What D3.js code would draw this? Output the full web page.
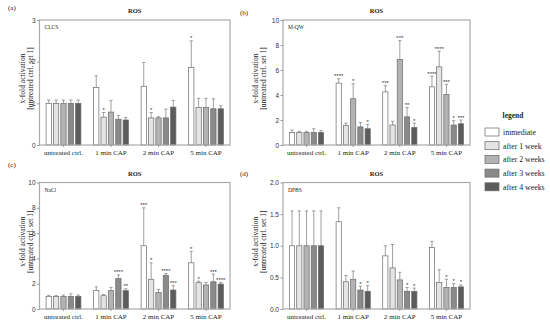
<!DOCTYPE html>
<html>
<head>
<meta charset="utf-8">
<script src="https://cdn.jsdelivr.net/npm/d3@7"></script>
<style>
  body { margin: 0; background: #fff; }
  svg { display: block; }
  .serif { font-family: 'Liberation Serif', 'DejaVu Serif', serif; }
  .sans { font-family: 'Liberation Sans', Arial, sans-serif; }
</style>
</head>
<body>
<div id="chart"></div>
<script>
// categories and series
var categories = ['untreated ctrl.', '1 min CAP', '2 min CAP', '5 min CAP']
var series = ['immediate', 'after 1 week', 'after 2 weeks', 'after 3 weeks', 'after 4 weeks']
var seriesColors = ['#ffffff', '#e4e4e4', '#b3b3b3', '#8a8a8a', '#5c5c5c']

// (a) CLCS  - mean, upper error bar end, significance
var clcsMean = [[1, 1, 1, 1, 1], [1.38, 0.67, 0.79, 0.62, 0.6], [1.41, 0.65, 0.65, 0.65, 0.91], [1.86, 0.9, 0.9, 0.87, 0.87]]
var clcsErr = [[1.08, 1.08, 1.08, 1.08, 1.08], [1.66, 0.78, 1.07, 0.71, 0.66], [1.98, 0.78, 0.68, 0.86, 1.07], [2.5, 1.12, 1.12, 1.11, 0.94]]
var clcsSig = [['', '', '', '', ''], ['', '*', '', '', ''], ['', '*', '', '', ''], ['*', '', '', '', '']]

// (b) M-QW
var mqwMean = [[1, 1, 1, 1, 1], [4.95, 1.55, 3.7, 1.45, 1.3], [4.25, 1.6, 6.85, 2.25, 1.4], [4.65, 6.25, 4.05, 1.6, 1.7]]
var mqwErr = [[1.2, 1.1, 1.1, 1.3, 1.15], [5.3, 1.75, 4.9, 1.8, 1.65], [4.75, 1.9, 8.35, 3.0, 1.75], [5.5, 7.5, 4.85, 1.95, 2.0]]
var mqwSig = [['', '', '', '', ''], ['****', '', '*', '', '*'], ['***', '', '***', '**', '*'], ['****', '****', '***', '*', '***']]

// (c) NaCl
var naclMean = [[1, 1, 1, 1, 1], [1.45, 1.05, 1.45, 2.4, 1.45], [5.0, 2.35, 1.3, 2.65, 1.5], [3.65, 2.08, 1.9, 2.15, 1.97]]
var naclErr = [[1.08, 1.07, 1.1, 1.2, 1.1], [1.75, 1.15, 1.7, 2.7, 1.6], [8.0, 3.65, 1.55, 2.8, 1.85], [4.55, 2.2, 2.1, 2.76, 2.1]]
var naclSig = [['', '', '', '', ''], ['', '', '', '****', '**'], ['***', '*', '', '****', '***'], ['*', '*', '', '***', '****']]

// (d) DPBS
var dpbsMean = [[1, 1, 1, 1, 1], [1.38, 0.43, 0.47, 0.3, 0.28], [0.84, 0.65, 0.46, 0.28, 0.28], [0.97, 0.42, 0.34, 0.34, 0.35]]
var dpbsErr = [[1.55, 1.55, 1.55, 1.55, 1.55], [1.6, 0.53, 0.6, 0.36, 0.37], [1.0, 1.02, 0.58, 0.34, 0.33], [1.07, 0.62, 0.47, 0.4, 0.38]]
var dpbsSig = [['', '', '', '', ''], ['', '', '', '*', '*'], ['', '', '', '*', '*'], ['', '', '*', '*', '*']]

var width = 550
var height = 321

var svg = d3.select('#chart').append('svg')
  .attr('width', width)
  .attr('height', height)

var colour = d3.scaleOrdinal().domain(series).range(seriesColors)

var panels = [
  { tag: '(a)', name: 'CLCS', mean: clcsMean, err: clcsErr, sig: clcsSig, max: 3, ticks: [0, 1, 2, 3], fmt: d3.format('d'),
    x0: 39.5, x1: 230, top: 20, bottom: 145, tagX: 8, tagY: 10, labelX: 29 },
  { tag: '(b)', name: 'M-QW', mean: mqwMean, err: mqwErr, sig: mqwSig, max: 10, ticks: [0, 2, 4, 6, 8, 10], fmt: d3.format('d'),
    x0: 283, x1: 470, top: 20, bottom: 145, tagX: 240, tagY: 15, labelX: 262 },
  { tag: '(c)', name: 'NaCl', mean: naclMean, err: naclErr, sig: naclSig, max: 10, ticks: [0, 2, 4, 6, 8, 10], fmt: d3.format('d'),
    x0: 39.5, x1: 230, top: 182.5, bottom: 309, tagX: 8, tagY: 167, labelX: 29 },
  { tag: '(d)', name: 'DPBS', mean: dpbsMean, err: dpbsErr, sig: dpbsSig, max: 2, ticks: [0, 0.5, 1, 1.5, 2], fmt: d3.format('.1f'),
    x0: 283, x1: 470, top: 182.5, bottom: 309, tagX: 240, tagY: 176, labelX: 262 }
]

panels.forEach(function (p) {
  var g = svg.append('g')

  var x = d3.scaleBand().domain(categories).range([p.x0, p.x1]).paddingInner(0.18).paddingOuter(0.095)
  var xs = d3.scaleBand().domain(series).range([0, x.bandwidth()]).padding(0.28)
  var y = d3.scaleLinear().domain([0, p.max]).range([p.bottom, p.top])

  // panel tag and title
  g.append('text').attr('class', 'serif')
    .attr('x', p.tagX).attr('y', p.tagY)
    .attr('font-size', 7).attr('fill', '#222')
    .text(p.tag)
  g.append('text').attr('class', 'serif')
    .attr('x', (p.x0 + p.x1) / 2).attr('y', p.top - 7)
    .attr('text-anchor', 'middle')
    .attr('font-size', 6.5).attr('font-weight', 'bold').attr('fill', '#222')
    .text('ROS')

  // y axis label
  var labelY = (p.top + p.bottom) / 2 - 4
  var yl = g.append('text').attr('class', 'serif')
    .attr('transform', 'translate(' + p.labelX + ',' + labelY + ') rotate(-90)')
    .attr('text-anchor', 'middle')
    .attr('font-size', 7.5).attr('fill', '#222')
  yl.append('tspan').attr('x', 0).attr('dy', -3.6).text('x-fold activation')
  yl.append('tspan').attr('x', 0).attr('dy', 7.8).text('[untreated ctrl. set 1]')

  // bars
  var groups = g.append('g')
    .selectAll('g')
    .data(categories)
    .join('g')
    .attr('transform', function (c) { return 'translate(' + x(c) + ',0)' })

  var cells = groups.selectAll('g')
    .data(function (c, i) {
      return series.map(function (s, j) {
        return { s: s, mean: p.mean[i][j], err: p.err[i][j], sig: p.sig[i][j] }
      })
    })
    .join('g')

  // error bars (upper only)
  cells.append('line')
    .attr('x1', function (d) { return xs(d.s) + xs.bandwidth() / 2 })
    .attr('x2', function (d) { return xs(d.s) + xs.bandwidth() / 2 })
    .attr('y1', function (d) { return y(d.mean) })
    .attr('y2', function (d) { return y(d.err) })
    .attr('stroke', '#888').attr('stroke-width', 0.8)
  cells.append('line')
    .attr('x1', function (d) { return xs(d.s) + xs.bandwidth() / 2 - 1.6 })
    .attr('x2', function (d) { return xs(d.s) + xs.bandwidth() / 2 + 1.6 })
    .attr('y1', function (d) { return y(d.err) })
    .attr('y2', function (d) { return y(d.err) })
    .attr('stroke', '#888').attr('stroke-width', 0.8)

  cells.append('rect')
    .attr('x', function (d) { return xs(d.s) })
    .attr('y', function (d) { return y(d.mean) })
    .attr('width', xs.bandwidth())
    .attr('height', function (d) { return p.bottom - y(d.mean) })
    .attr('fill', function (d) { return colour(d.s) })
    .attr('stroke', '#6a6a6a').attr('stroke-width', 0.7)

  cells.append('text').attr('class', 'sans')
    .attr('x', function (d) { return xs(d.s) + xs.bandwidth() / 2 })
    .attr('y', function (d) { return y(d.err) - 0.5 })
    .attr('text-anchor', 'middle')
    .attr('font-size', 6).attr('fill', '#333')
    .text(function (d) { return d.sig })

  // frame
  g.append('rect')
    .attr('x', p.x0).attr('y', p.top)
    .attr('width', p.x1 - p.x0).attr('height', p.bottom - p.top)
    .attr('fill', 'none').attr('stroke', '#aaa').attr('stroke-width', 1.2)

  // y axis
  var yAxis = g.append('g')
    .attr('transform', 'translate(' + p.x0 + ',0)')
    .call(d3.axisLeft(y).tickValues(p.ticks).tickFormat(p.fmt).tickSize(2.5).tickPadding(1.5))
  yAxis.select('.domain').remove()
  yAxis.selectAll('line').attr('stroke', '#999')
  yAxis.selectAll('text').attr('class', 'sans').attr('font-size', 6.5).attr('fill', '#333')
    .attr('font-family', null)

  // x axis
  var xAxis = g.append('g')
    .attr('transform', 'translate(0,' + p.bottom + ')')
    .call(d3.axisBottom(x).tickSize(2).tickPadding(3))
  xAxis.select('.domain').remove()
  xAxis.selectAll('line').attr('stroke', '#999')
  xAxis.selectAll('text').attr('class', 'serif').attr('font-size', 7).attr('fill', '#222')
    .attr('font-family', null)

  // inner name
  g.append('text').attr('class', 'serif')
    .attr('x', p.x0 + 5).attr('y', p.top + 9)
    .attr('font-size', 5.5).attr('fill', '#222')
    .text(p.name)
})

// legend
var legend = svg.append('g').attr('transform', 'translate(485,0)')
legend.append('text').attr('class', 'serif')
  .attr('x', 28).attr('y', 118)
  .attr('text-anchor', 'middle')
  .attr('font-size', 7.5).attr('font-weight', 'bold').attr('fill', '#222')
  .text('legend')

var rows = legend.selectAll('g')
  .data(series)
  .join('g')
  .attr('transform', function (d, i) { return 'translate(0,' + (132 + i * 13.7) + ')' })

rows.append('rect')
  .attr('x', 0).attr('y', -4)
  .attr('width', 14).attr('height', 8)
  .attr('fill', function (d) { return colour(d) })
  .attr('stroke', '#666').attr('stroke-width', 0.7)

rows.append('text').attr('class', 'serif')
  .attr('x', 18).attr('y', 2.8)
  .attr('font-size', 7.8).attr('fill', '#222')
  .text(function (d) { return d })
</script>
</body>
</html>
